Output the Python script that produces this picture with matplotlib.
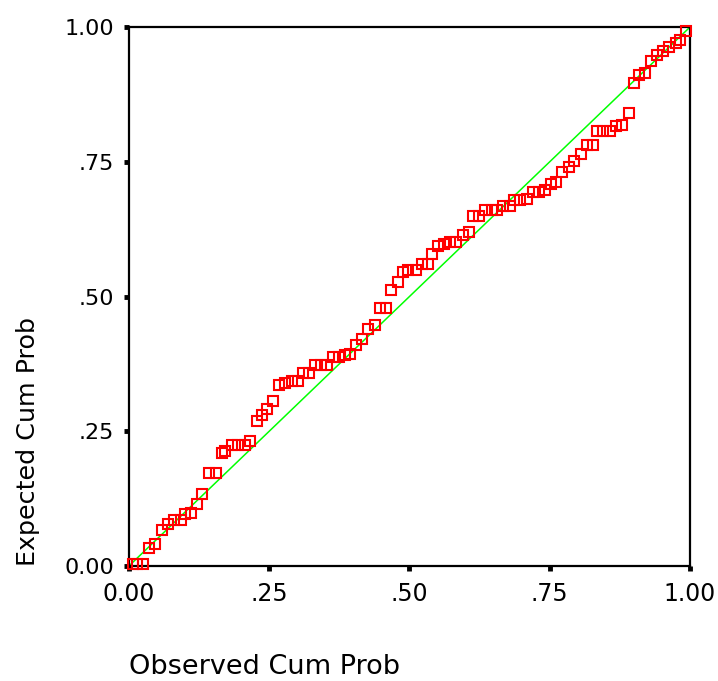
import matplotlib
matplotlib.use("Agg")
import matplotlib.pyplot as plt

observed = [0.007, 0.015, 0.025, 0.036, 0.047, 0.059, 0.069, 0.081, 0.092, 0.100,
            0.110, 0.121, 0.131, 0.143, 0.155, 0.166, 0.172, 0.184, 0.194, 0.206,
            0.216, 0.228, 0.238, 0.246, 0.257, 0.268, 0.279, 0.290, 0.302, 0.311,
            0.321, 0.331, 0.343, 0.353, 0.364, 0.374, 0.385, 0.394, 0.405, 0.416,
            0.427, 0.438, 0.447, 0.459, 0.467, 0.479, 0.489, 0.498, 0.511, 0.522,
            0.533, 0.541, 0.551, 0.561, 0.572, 0.583, 0.595, 0.606, 0.613, 0.625,
            0.635, 0.647, 0.657, 0.667, 0.679, 0.687, 0.698, 0.710, 0.720, 0.731,
            0.742, 0.753, 0.761, 0.772, 0.784, 0.794, 0.806, 0.816, 0.827, 0.834,
            0.846, 0.857, 0.868, 0.879, 0.891, 0.901, 0.909, 0.920, 0.931, 0.942,
            0.953, 0.963, 0.975, 0.983, 0.993]
expected = [0.004, 0.004, 0.004, 0.033, 0.041, 0.066, 0.077, 0.085, 0.085, 0.097,
            0.099, 0.115, 0.133, 0.173, 0.173, 0.210, 0.214, 0.225, 0.225, 0.225,
            0.232, 0.269, 0.281, 0.292, 0.306, 0.335, 0.339, 0.343, 0.343, 0.358,
            0.358, 0.373, 0.373, 0.373, 0.387, 0.387, 0.391, 0.394, 0.410, 0.421,
            0.439, 0.447, 0.479, 0.479, 0.513, 0.527, 0.546, 0.549, 0.549, 0.560,
            0.560, 0.579, 0.594, 0.598, 0.601, 0.601, 0.615, 0.619, 0.649, 0.649,
            0.660, 0.660, 0.660, 0.669, 0.669, 0.679, 0.679, 0.682, 0.694, 0.694,
            0.698, 0.709, 0.712, 0.731, 0.741, 0.752, 0.764, 0.782, 0.782, 0.808,
            0.808, 0.808, 0.816, 0.819, 0.841, 0.897, 0.911, 0.915, 0.937, 0.948,
            0.956, 0.963, 0.970, 0.977, 0.993]
ref_line = [0.0, 1.0]
tick_vals = [0.0, 0.25, 0.5, 0.75, 1.0]
tick_labels = ["0.00", ".25", ".50", ".75", "1.00"]

fig = plt.figure(figsize=(7.18, 6.81), dpi=100)
ax = fig.add_axes([0.1797, 0.169, 0.781, 0.791])
ax.plot(ref_line, ref_line, color="#00ff00", lw=1.1, zorder=2)
ax.plot(observed, expected, linestyle="none", marker="s", markersize=7,
        markerfacecolor="none", markeredgecolor="#ff0000", markeredgewidth=1.5,
        zorder=3, clip_on=False)
ax.set_xlim(0, 1)
ax.set_ylim(0, 1)
ax.set_xticks(tick_vals)
ax.set_xticklabels(tick_labels)
ax.set_yticks(tick_vals)
ax.set_yticklabels(tick_labels)
for s in ax.spines.values():
    s.set_linewidth(1.6)
ax.tick_params(direction="out", length=3.5, width=3.5)
ax.tick_params(axis="x", labelsize=17, pad=8)
ax.tick_params(axis="y", labelsize=16, pad=7)
ax.set_xlabel("Observed Cum Prob", fontsize=19.5, labelpad=35, loc="left")
ax.set_ylabel("Expected Cum Prob", fontsize=18.3, labelpad=18, loc="bottom")
fig.savefig("out.png", dpi=100)
